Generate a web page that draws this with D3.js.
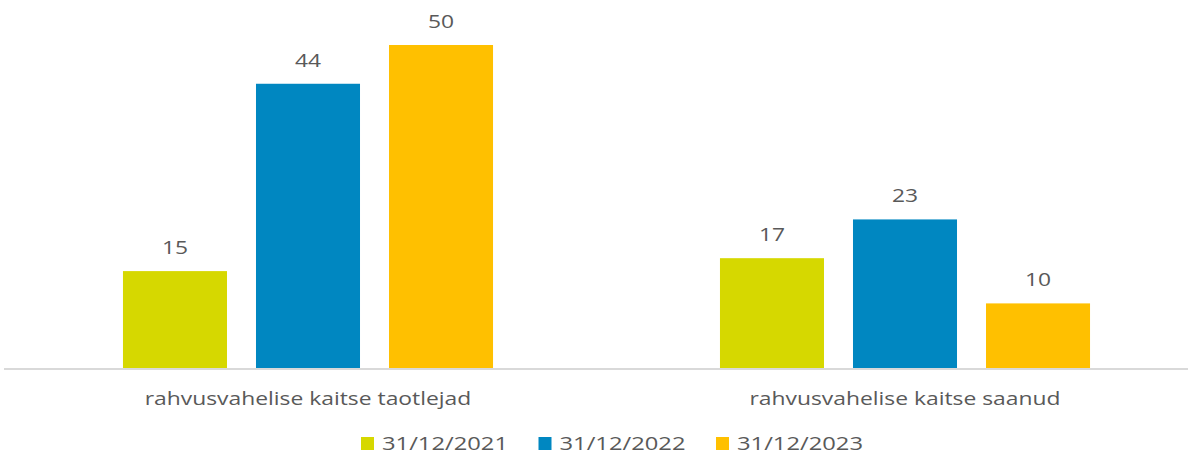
<!DOCTYPE html>
<html lang="et">
<head>
    <meta charset="utf-8" />
    <title>Rahvusvaheline kaitse</title>
    <script src="https://cdnjs.cloudflare.com/ajax/libs/d3/7.8.5/d3.min.js"></script>
    <style>
        body { margin: 0; background: #fff; }
        text { font-family: "Open Sans", sans-serif; fill: #595959; }
    </style>
</head>
<body>
<script>
    // Data
    const categories = ["rahvusvahelise kaitse taotlejad", "rahvusvahelise kaitse saanud"];
    const seriesNames = ["31/12/2021", "31/12/2022", "31/12/2023"];
    const values2021 = [15, 17];
    const values2022 = [44, 23];
    const values2023 = [50, 10];
    const seriesColors = ["#D6D800", "#0087C1", "#FFC000"];

    const seriesValues = [values2021, values2022, values2023];

    const width = 1188, height = 454;
    const baseline = 368;
    const sx = 1.27; // text looks stretched sideways in the picture

    const svg = d3.select("body")
        .append("svg")
        .attr("width", width)
        .attr("height", height);

    // Scales
    const x0 = d3.scaleBand().domain(categories).range([9.5, 1203.5]);
    const x1 = d3.scaleBand().domain(seriesNames)
        .range([0, x0.bandwidth()])
        .paddingInner(0.218)
        .paddingOuter(0.853);
    const y = d3.scaleLinear().domain([0, 50]).range([baseline, 45]);

    // Flatten to rows
    const rows = [];
    categories.forEach((c, ci) => {
        seriesNames.forEach((s, si) => {
            rows.push({ cat: c, series: s, value: seriesValues[si][ci], color: seriesColors[si] });
        });
    });

    // Bars
    svg.append("g")
        .selectAll("rect")
        .data(rows)
        .join("rect")
        .attr("x", d => x0(d.cat) + x1(d.series))
        .attr("y", d => y(d.value))
        .attr("width", x1.bandwidth())
        .attr("height", d => baseline - y(d.value))
        .attr("fill", d => d.color);

    // Axis line
    svg.append("line")
        .attr("x1", 4).attr("x2", width)
        .attr("y1", baseline + 1).attr("y2", baseline + 1)
        .attr("stroke", "#d9d9d9")
        .attr("stroke-width", 2);

    // Value labels
    svg.append("g")
        .selectAll("text")
        .data(rows)
        .join("text")
        .attr("transform", d => `translate(${x0(d.cat) + x1(d.series) + x1.bandwidth() / 2},${y(d.value) - 17}) scale(1.2,1)`)
        .attr("text-anchor", "middle")
        .style("font-size", "19px")
        .text(d => d.value);

    // Category labels
    svg.append("g")
        .selectAll("text")
        .data(categories)
        .join("text")
        .attr("transform", d => `translate(${x0(d) + x0.bandwidth() / 2},405) scale(${sx},1)`)
        .attr("text-anchor", "middle")
        .style("font-size", "18px")
        .text(d => d);

    // Legend
    const legend = svg.append("g").attr("transform", "translate(361,437)");
    const item = legend.selectAll("g")
        .data(seriesNames)
        .join("g")
        .attr("transform", (d, i) => `translate(${i * 177.5},0)`);
    item.append("rect")
        .attr("width", 13).attr("height", 13)
        .attr("fill", (d, i) => seriesColors[i]);
    item.append("text")
        .attr("transform", "translate(21,13) scale(1.32,1)")
        .style("font-size", "18px")
        .text(d => d);
</script>
</body>
</html>
